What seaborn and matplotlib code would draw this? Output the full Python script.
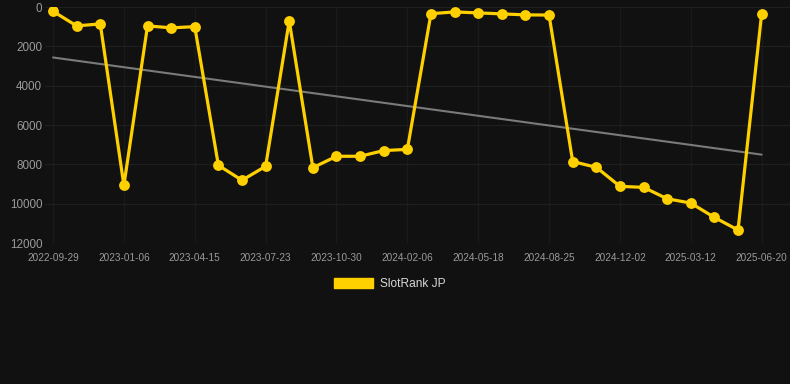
import numpy as np
import pandas as pd
import matplotlib
matplotlib.use("Agg")
import matplotlib.pyplot as plt
import matplotlib.patches as mpatches
import seaborn as sns

dates = [
    "2022-09-29", "2022-11-01", "2022-12-04", "2023-01-06", "2023-02-08",
    "2023-03-13", "2023-04-15", "2023-05-18", "2023-06-20", "2023-07-23",
    "2023-08-25", "2023-09-27", "2023-10-30", "2023-12-02", "2024-01-04",
    "2024-02-06", "2024-03-10", "2024-04-14", "2024-05-18", "2024-06-20",
    "2024-07-23", "2024-08-25", "2024-09-27", "2024-10-30", "2024-12-02",
    "2025-01-04", "2025-02-06", "2025-03-12", "2025-04-14", "2025-05-17",
    "2025-06-20",
]
rank = [
    220, 960, 860, 9070, 960, 1060, 1000, 8050, 8810, 8100,
    710, 8170, 7590, 7590, 7300, 7240, 340, 250, 300, 350,
    400, 410, 7860, 8150, 9120, 9170, 9750, 9970, 10700, 11340,
    340,
]
series_name = "SlotRank JP"
yticks = [0, 2000, 4000, 6000, 8000, 10000, 12000]

df = pd.DataFrame({"idx": np.arange(len(dates)), "date": dates, "rank": rank})

BG = "#111111"
GRID_H = "#1f1f1f"
GRID_V = "#1a1a1a"
TXT = "#9a9a9a"
YEL = "#FFD000"

sns.set_theme(style="dark", rc={
    "axes.facecolor": BG, "figure.facecolor": BG,
    "axes.edgecolor": BG, "grid.color": GRID_H,
})
plt.rcParams["font.family"] = ["Liberation Sans", "DejaVu Sans"]

fig = plt.figure(figsize=(7.9, 3.84), dpi=100)
ax = fig.add_axes([45 / 790, 1 - 243 / 384, 1 - 45 / 790, (243 - 7) / 384])
ax.set_facecolor(BG)

sns.regplot(data=df, x="idx", y="rank", ax=ax, scatter=False, ci=None,
            line_kws={"color": "#7a7a7a", "lw": 1.5, "zorder": 2})
sns.lineplot(data=df, x="idx", y="rank", ax=ax, color=YEL, lw=2.3,
             marker="o", markersize=7.8, markeredgewidth=0, zorder=3,
             solid_joinstyle="miter")

ax.set_ylim(12000, 0)
ax.set_xlim(-0.34, 31.2)
ax.set_yticks(yticks)
ax.set_yticklabels([str(v) for v in yticks])
tick_idx = list(range(0, len(dates), 3))
ax.set_xticks(tick_idx)
ax.set_xticklabels([dates[i] for i in tick_idx])
ax.grid(False)
ax.yaxis.grid(True, color=GRID_H, lw=0.9)
ax.xaxis.grid(True, color=GRID_V, lw=0.9)
ax.set_axisbelow(True)
ax.tick_params(axis="y", colors=TXT, labelsize=8.4, length=0, pad=2)
ax.tick_params(axis="x", colors=TXT, labelsize=7.2, length=5, width=0.8,
               pad=2, color="#262626")
for lbl in ax.get_xticklabels() + ax.get_yticklabels():
    lbl.set_color(TXT)
ax.set_xlabel("")
ax.set_ylabel("")
for s in ax.spines.values():
    s.set_visible(False)

handle = mpatches.Patch(color=YEL, label=series_name)
leg = fig.legend(handles=[handle], loc="center", bbox_to_anchor=(390 / 790, 1 - 284 / 384),
                 frameon=False, fontsize=8.6, handlelength=3.25, handleheight=0.85,
                 handletextpad=0.6)
for t in leg.get_texts():
    t.set_color("#d8d8d8")

fig.savefig("out.png", dpi=100, facecolor=BG)
